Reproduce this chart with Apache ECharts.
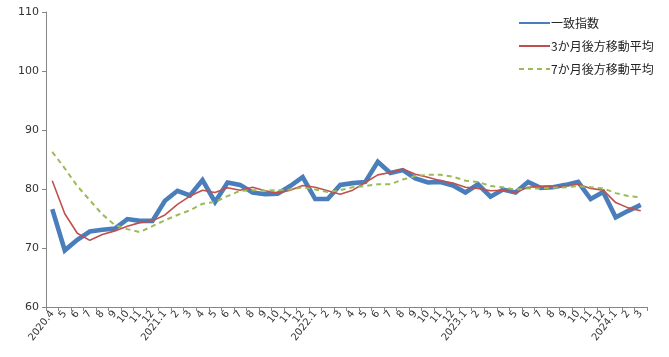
<!DOCTYPE html>
<html>
<head>
<meta charset="utf-8">
<script src="https://cdn.jsdelivr.net/npm/echarts@6/dist/echarts.min.js"></script>
<style>
html,body{margin:0;padding:0;background:#fff;}
#c{width:669px;height:357px;}
</style>
</head>
<body>
<div id="c"></div>
<script>
const categories = ['2020.4','5','6','7','8','9','10','11','12',
  '2021.1','2','3','4','5','6','7','8','9','10','11','12',
  '2022.1','2','3','4','5','6','7','8','9','10','11','12',
  '2023.1','2','3','4','5','6','7','8','9','10','11','12',
  '2024.1','2','3'];
const coincident = [76.6,69.6,71.4,72.8,73.1,73.3,74.9,74.6,74.6,
  78.0,79.7,78.9,81.5,77.8,81.1,80.7,79.4,79.1,79.2,80.5,82.0,
  78.3,78.3,80.7,81.0,81.2,84.6,82.7,83.2,81.8,81.1,81.2,80.6,
  79.4,80.8,78.7,79.9,79.4,81.2,80.2,80.3,80.7,81.2,78.3,79.5,
  75.2,76.3,77.3];
const ma3 = [81.4,75.8,72.5,71.3,72.3,72.9,73.7,74.3,74.6,
  75.6,77.4,78.8,79.8,79.4,80.2,79.8,80.3,79.7,79.3,79.8,80.6,
  80.3,79.7,79.1,79.8,81.1,82.4,82.8,83.4,82.5,82.0,81.4,81.0,
  80.3,80.1,79.7,79.8,79.4,80.3,80.4,80.5,80.5,80.8,80.1,79.8,
  77.7,76.8,76.3];
const ma7 = [86.3,83.5,80.5,78.1,75.7,73.9,73.2,72.7,73.7,
  74.7,75.6,76.4,77.5,77.8,78.8,79.7,79.8,79.7,79.8,79.9,80.3,
  79.9,79.5,79.8,80.3,80.5,80.8,80.8,81.6,82.2,82.4,82.4,82.1,
  81.4,81.2,80.5,80.3,79.9,80.1,80.1,80.2,80.3,80.5,80.3,80.1,
  79.3,78.8,78.6];
const yTicks = {min:60, max:110, interval:10};
const seriesNames = ['一致指数','3か月後方移動平均','7か月後方移動平均'];

const chart = echarts.init(document.getElementById('c'));
const font = '"Noto Sans CJK JP", "Noto Sans", sans-serif';
chart.setOption({
  animation:false,
  textStyle:{fontFamily:font},
  grid:{left:46,right:22,top:12,bottom:50},
  legend:{
    orient:'vertical',
    left:513, top:12,
    itemWidth:31, itemHeight:12, itemGap:11,
    itemStyle:{opacity:0},
    textStyle:{fontSize:12,color:'#222',fontFamily:font,padding:[0,0,0,-4]},
    data:seriesNames
  },
  xAxis:{
    type:'category',
    data:categories,
    boundaryGap:true,
    axisLine:{lineStyle:{color:'#868686',width:1}},
    axisTick:{show:true,length:4,alignWithLabel:false,interval:0,lineStyle:{color:'#868686'}},
    axisLabel:{interval:0,rotate:52,fontSize:10,color:'#333',margin:5,fontFamily:'"DejaVu Sans", sans-serif'},
    splitLine:{show:false}
  },
  yAxis:{
    type:'value',
    min:yTicks.min,max:yTicks.max,interval:yTicks.interval,
    axisLine:{show:true,lineStyle:{color:'#868686',width:1}},
    axisTick:{show:true,length:4,lineStyle:{color:'#868686'}},
    axisLabel:{fontSize:11,color:'#333',margin:7,fontFamily:'"DejaVu Sans", sans-serif'},
    splitLine:{show:false}
  },
  series:[
    {name:seriesNames[0],type:'line',data:coincident,symbol:'none',
     lineStyle:{color:'#4a7ebb',width:4.6,join:'miter'},itemStyle:{color:'#4a7ebb'},z:3},
    {name:seriesNames[1],type:'line',data:ma3,symbol:'none',
     lineStyle:{color:'#c0504d',width:1.6},itemStyle:{color:'#c0504d'},z:4},
    {name:seriesNames[2],type:'line',data:ma7,symbol:'none',
     lineStyle:{color:'#9bbb59',width:2,type:[5,4]},itemStyle:{color:'#9bbb59'},z:5}
  ]
});
</script>
</body>
</html>
